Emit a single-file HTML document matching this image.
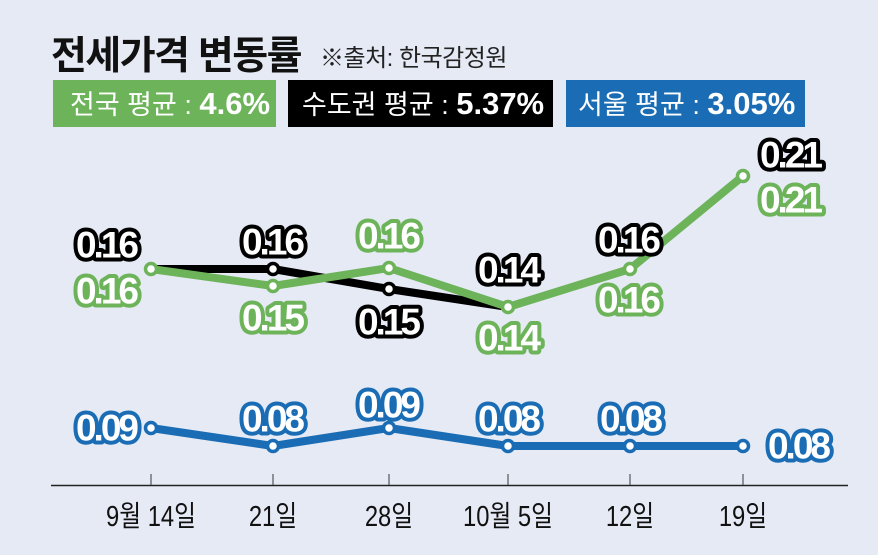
<!DOCTYPE html><html><head><meta charset="utf-8"><style>
html,body{margin:0;padding:0;background:#e6eaf5;}
svg{display:block}
.t{font-family:"Liberation Sans","Noto Sans CJK KR",sans-serif;}
.v{font-family:"Liberation Sans",sans-serif;font-weight:bold;font-size:37px;letter-spacing:-3px;fill:#fff;stroke-width:8;stroke-linejoin:round;paint-order:stroke;text-anchor:middle;dominant-baseline:central}
.g{stroke:#6db35a}.k{stroke:#000}.b{stroke:#1a6db5}
</style></head><body>
<svg width="878" height="555" viewBox="0 0 878 555">
<rect width="878" height="555" fill="#e6eaf5"/>
<text class="t" x="51" y="69" font-size="39" font-weight="bold" fill="#111" letter-spacing="-1.5">전세가격 변동률</text>
<text class="t" x="320" y="66" font-size="24" fill="#222" letter-spacing="-0.5">※출처: 한국감정원</text>
<rect x="53" y="80" width="223" height="47" fill="#6db35a"/>
<text class="t" x="70" y="114" font-size="27" fill="#fff">전국 평균 : <tspan font-weight="bold" font-size="31">4.6%</tspan></text>
<rect x="288" y="80" width="265" height="47" fill="#000"/>
<text class="t" x="302" y="114" font-size="27" fill="#fff">수도권 평균 : <tspan font-weight="bold" font-size="31">5.37%</tspan></text>
<rect x="566" y="80" width="239" height="47" fill="#1a6db5"/>
<text class="t" x="578" y="114" font-size="27" fill="#fff">서울 평균 : <tspan font-weight="bold" font-size="31">3.05%</tspan></text>
<line x1="51" y1="485.5" x2="848" y2="485.5" stroke="#222" stroke-width="1.5"/>
<g stroke="#555" stroke-width="1.2">
<line x1="151" y1="474" x2="151" y2="485"/><line x1="273" y1="474" x2="273" y2="485"/><line x1="389" y1="474" x2="389" y2="485"/><line x1="508" y1="474" x2="508" y2="485"/><line x1="630" y1="474" x2="630" y2="485"/><line x1="743" y1="474" x2="743" y2="485"/></g>
<g class="t" font-size="29" fill="#111" text-anchor="middle">
<text x="151" y="526" transform="translate(151 0) scale(0.82 1) translate(-151 0)">9월 14일</text>
<text x="273" y="526" transform="translate(273 0) scale(0.82 1) translate(-273 0)">21일</text>
<text x="389" y="526" transform="translate(389 0) scale(0.82 1) translate(-389 0)">28일</text>
<text x="508" y="526" transform="translate(508 0) scale(0.82 1) translate(-508 0)">10월 5일</text>
<text x="630" y="526" transform="translate(630 0) scale(0.82 1) translate(-630 0)">12일</text>
<text x="743" y="526" transform="translate(743 0) scale(0.82 1) translate(-743 0)">19일</text>
</g>
<polyline points="151,269 273,269 389,289 508,307" fill="none" stroke="#000" stroke-width="8" stroke-linejoin="round"/>
<polyline points="151,269 273,286 389,268 508,307 630,269 743,176" fill="none" stroke="#6db35a" stroke-width="8" stroke-linejoin="round"/>
<polyline points="151,428 273,446 389,428 508,446 630,446 743,446" fill="none" stroke="#1a6db5" stroke-width="8" stroke-linejoin="round"/>
<g fill="#fff" stroke-width="3.5">
<circle cx="273" cy="269" r="5.5" stroke="#000"/><circle cx="389" cy="289" r="5.5" stroke="#000"/>
<circle cx="151" cy="269" r="5.5" stroke="#6db35a"/><circle cx="273" cy="286" r="5.5" stroke="#6db35a"/><circle cx="389" cy="268" r="5.5" stroke="#6db35a"/><circle cx="508" cy="307" r="5.5" stroke="#6db35a"/><circle cx="630" cy="269" r="5.5" stroke="#6db35a"/><circle cx="743" cy="176" r="5.5" stroke="#6db35a"/>
<circle cx="151" cy="428" r="5.5" stroke="#1a6db5"/><circle cx="273" cy="446" r="5.5" stroke="#1a6db5"/><circle cx="389" cy="428" r="5.5" stroke="#1a6db5"/><circle cx="508" cy="446" r="5.5" stroke="#1a6db5"/><circle cx="630" cy="446" r="5.5" stroke="#1a6db5"/><circle cx="743" cy="446" r="5.5" stroke="#1a6db5"/>
</g>
<text class="v k" x="106" y="245">0.16</text>
<text class="v g" x="106" y="291">0.16</text>
<text class="v k" x="272" y="242">0.16</text>
<text class="v g" x="272" y="318">0.15</text>
<text class="v g" x="388" y="236">0.16</text>
<text class="v k" x="388" y="322">0.15</text>
<text class="v k" x="508" y="270">0.14</text>
<text class="v g" x="508" y="338">0.14</text>
<text class="v k" x="628" y="240">0.16</text>
<text class="v g" x="628" y="300">0.16</text>
<text class="v k" x="790" y="155">0.21</text>
<text class="v g" x="790" y="200">0.21</text>
<text class="v b" x="106" y="428">0.09</text>
<text class="v b" x="272" y="419">0.08</text>
<text class="v b" x="388" y="405">0.09</text>
<text class="v b" x="508" y="419">0.08</text>
<text class="v b" x="630" y="419">0.08</text>
<text class="v b" x="798" y="446">0.08</text>
</svg>
</body></html>
